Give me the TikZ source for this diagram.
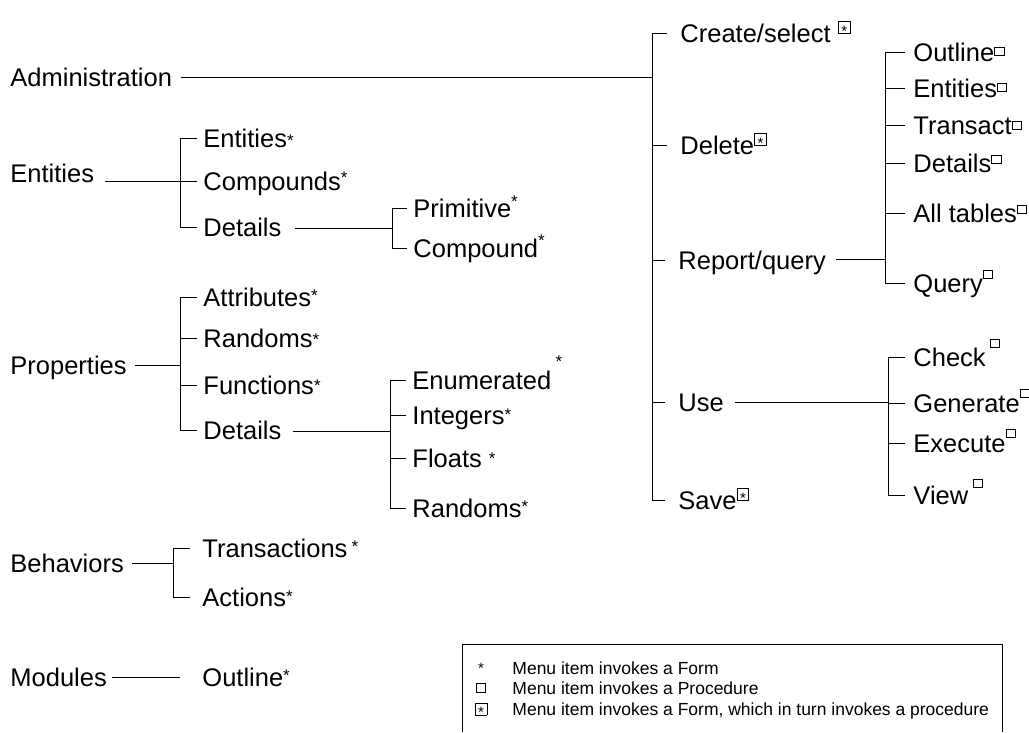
\documentclass[tikz,border=0pt]{standalone}
\usepackage{fontspec}
\setmainfont{Liberation Sans}
\usetikzlibrary{calc}

% marks after menu items
\newcommand{\fm}[1][4pt]{\raisebox{#1}{\fontsize{17}{17}\selectfont *}}
\newcommand{\pr}[1][7pt]{\raisebox{#1}{\setlength{\fboxsep}{0pt}\setlength{\fboxrule}{0.9pt}\fbox{\rule{8.5pt}{0pt}\rule{0pt}{7.5pt}}}}
\newcommand{\fp}[1][9pt]{\raisebox{#1}{\setlength{\fboxsep}{0pt}\setlength{\fboxrule}{0.9pt}\fbox{\rule{0pt}{11pt}\makebox[11pt]{\raisebox{-3pt}[0pt][0pt]{\fontsize{15}{15}\selectfont *}}}}}

\begin{document}
\begin{tikzpicture}[x=1pt, y=-1pt, line width=0.9pt,
    item/.style={anchor=west, inner sep=0pt, text height=18pt, text depth=0pt, font=\fontsize{25.5}{30}\selectfont},
    legtext/.style={anchor=west, inner sep=0pt, text height=12pt, text depth=0pt, font=\fontsize{17.5}{20}\selectfont},
    legsym/.style={inner sep=0pt, font=\fontsize{15}{18}\selectfont}]

        \useasboundingbox (0,0) rectangle (1029,732);

        % main menu
        \node[item] (adm) at (10,77) {Administration};
        \node[item] (ent) at (10,173) {Entities};
        \node[item] (prop) at (10,365) {Properties};
        \node[item] (beh) at (10,563) {Behaviors};
        \node[item] (mod) at (10,677) {Modules};

        % entities menu
        \node[item] (ent1) at (203,138) {Entities\fm[1pt]};
        \node[item] (ent2) at (203,181) {Compounds\fm[6.5pt]};
        \node[item] (ent3) at (203,227) {Details};
        \node[item] (det1) at (413,208) {Primitive\fm[9.5pt]};
        \node[item] (det2) at (413,248) {Compound\fm[10.5pt]};

        % properties menu
        \node[item] (prop1) at (203,297) {Attributes\fm[4.5pt]};
        \node[item] (prop2) at (203,338) {Randoms\fm[2pt]};
        \node[item] (prop3) at (203,385) {Functions\fm[2.5pt]};
        \node[item] (prop4) at (203,430) {Details};
        \node[item] (pdet1) at (412,380) {Enumerated\,\fm[21.5pt]};
        \node[item] (pdet2) at (412,415) {Integers\fm[3.5pt]};
        \node[item] (pdet3) at (412,458) {Floats \fm[2.5pt]};
        \node[item] (pdet4) at (412,508) {Randoms\fm[4.5pt]};

        % behaviors and modules menus
        \node[item] (beh1) at (202,548) {Transactions\,\fm[4.5pt]};
        \node[item] (beh2) at (202,597) {Actions\fm[3.5pt]};
        \node[item] (mod1) at (202,677) {Outline\fm[4.5pt]};

        % administration menu
        \node[item] (adm1) at (680,33) {Create/select \fp};
        \node[item] (adm2) at (680,145) {Delete\fp};
        \node[item] (adm3) at (678,260) {Report/query};
        \node[item] (adm4) at (678,402) {Use};
        \node[item] (adm5) at (678,500) {Save\fp};

        % report/query menu
        \node[item] (rep1) at (913,52) {Outline\pr[6pt]};
        \node[item] (rep2) at (913,88) {Entities\pr[6pt]};
        \node[item] (rep3) at (913,125) {Transact\pr[5pt]};
        \node[item] (rep4) at (913,163) {Details\pr[9pt]};
        \node[item] (rep5) at (913,213) {All tables\pr[9pt]};
        \node[item] (rep6) at (913,283) {Query\pr[14pt]};

        % use menu
        \node[item] (use1) at (913,357) {Check\,\pr[19pt]};
        \node[item] (use2) at (913,403) {Generate\pr[15pt]};
        \node[item] (use3) at (913,443) {Execute\pr[15pt]};
        \node[item] (use4) at (913,495) {View\,\pr[17pt]};

        % junctions
        \coordinate (jA) at (652,77);
        \coordinate (jE) at (180,181);
        \coordinate (jED) at (392,228);
        \coordinate (jP) at (180,365);
        \coordinate (jPD) at (390,431);
        \coordinate (jB) at (173,563);
        \coordinate (jR) at (885,259);
        \coordinate (jU) at (888,402);

        % lines to the junctions
        \draw ([xshift=9pt]adm.east) -- (jA);
        \draw ([xshift=10pt]ent.east |- jE) -- (jE);
        \draw ([xshift=13pt]ent3.east |- jED) -- (jED);
        \draw ([xshift=8pt]prop.east) -- (jP);
        \draw ([xshift=11pt]prop4.east |- jPD) -- (jPD);
        \draw ([xshift=8pt]beh.east) -- (jB);
        \draw ([xshift=10pt]adm3.east |- jR) -- (jR);
        \draw ([xshift=11pt]adm4.east) -- (jU);
        \draw ([xshift=5pt]mod.east) -- ([xshift=-22pt]mod1.west);

        % brackets
        \foreach \c in {ent1,ent2,ent3} \draw ([xshift=-6pt]\c.west) -| (jE);
        \foreach \c in {det1,det2} \draw ([xshift=-6pt]\c.west) -| (jED);
        \foreach \c in {prop1,prop2,prop3,prop4} \draw ([xshift=-6pt]\c.west) -| (jP);
        \foreach \c in {pdet1,pdet2,pdet3,pdet4} \draw ([xshift=-6pt]\c.west) -| (jPD);
        \foreach \c in {beh1,beh2} \draw ([xshift=-12pt]\c.west) -| (jB);
        \foreach \c in {adm1,adm2,adm3,adm4,adm5} \draw ([xshift=-13pt]\c.west) -| (jA);
        \foreach \c in {rep1,rep2,rep3,rep4,rep5,rep6} \draw ([xshift=-8pt]\c.west) -| (jR);
        \foreach \c in {use1,use2,use3,use4} \draw ([xshift=-8pt]\c.west) -| (jU);

        % legend
        \draw[line width=0.8pt] (462,732) -- (462,644) -- (1002,644) -- (1002,732);
        \node[legsym] (sym1) at (481,668) {\raisebox{-3.5pt}{*}};
        \node[legsym] (sym2) at (481,688) {\pr[0pt]};
        \node[legsym] (sym3) at (481,709) {\fp[0pt]};
        \node[legtext] (leg1) at (512,668) {Menu item invokes a Form};
        \node[legtext] (leg2) at (512,688) {Menu item invokes a Procedure};
        \node[legtext] (leg3) at (512,709) {Menu item invokes a Form, which in turn invokes a procedure};

\end{tikzpicture}
\end{document}
